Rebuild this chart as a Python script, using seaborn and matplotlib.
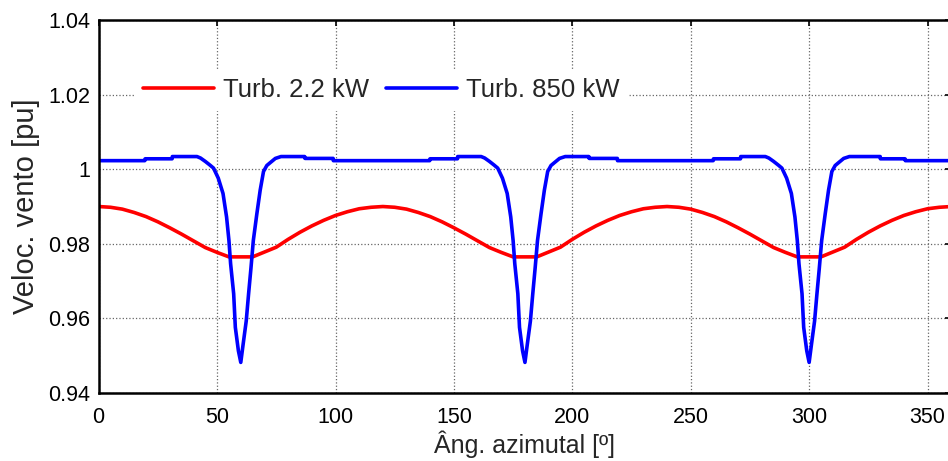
import matplotlib
matplotlib.use("Agg")
import matplotlib.pyplot as plt
import seaborn as sns
import pandas as pd

# Azimuth angle [deg] and wind speed [pu] seen by each turbine
ang_small = [0, 5, 10, 15, 20, 25, 30, 35, 40, 45, 50, 55, 60, 65, 70, 75, 80, 85, 90, 95, 100, 105, 110, 115,
             120, 125, 130, 135, 140, 145, 150, 155, 160, 165, 170, 175, 180, 185, 190, 195, 200, 205, 210, 215, 220, 225, 230, 235,
             240, 245, 250, 255, 260, 265, 270, 275, 280, 285, 290, 295, 300, 305, 310, 315, 320, 325, 330, 335, 340, 345, 350, 355,
             360]
vel_small = [0.9900, 0.9898, 0.9893, 0.9884, 0.9873, 0.9859, 0.9843, 0.9826, 0.9808, 0.9790, 0.9777, 0.9765,
             0.9765, 0.9765, 0.9778, 0.9791, 0.9812, 0.9831, 0.9848, 0.9863, 0.9876, 0.9886, 0.9894, 0.9898,
             0.9900, 0.9898, 0.9893, 0.9884, 0.9873, 0.9859, 0.9843, 0.9826, 0.9808, 0.9790, 0.9777, 0.9765,
             0.9765, 0.9765, 0.9778, 0.9791, 0.9812, 0.9831, 0.9848, 0.9863, 0.9876, 0.9886, 0.9894, 0.9898,
             0.9900, 0.9898, 0.9893, 0.9884, 0.9873, 0.9859, 0.9843, 0.9826, 0.9808, 0.9790, 0.9777, 0.9765,
             0.9765, 0.9765, 0.9778, 0.9791, 0.9812, 0.9831, 0.9848, 0.9863, 0.9876, 0.9886, 0.9894, 0.9898,
             0.9900]

ang_large = [0, 19.5, 19.6, 31, 31.1, 41.5, 43, 45, 47, 48.5, 50.5, 52.5, 54, 55, 55.7, 57, 57.7, 59,
             60, 61, 62.3, 63.3, 64.3, 65.3, 66.8, 68.2, 69.6, 71, 72.5, 74.6, 77, 87, 87.1, 99, 99.1,
             139.8, 139.9, 151.5, 151.6, 161.5, 163, 165, 167, 168.5, 170.5, 172.5, 174, 175, 175.7, 177, 177.7, 179,
             180, 181, 182.3, 183.3, 184.3, 185.3, 186.8, 188.2, 189.6, 191, 192.5, 194.6, 197, 207, 207.1, 219, 219.1,
             259.5, 259.6, 271, 271.1, 281.5, 283, 285, 287, 288.5, 290.5, 292.5, 294, 295, 295.7, 297, 297.7, 299,
             300, 301, 302.3, 303.3, 304.3, 305.3, 306.8, 308.2, 309.6, 311, 312.5, 314.6, 317, 330, 330.1, 340.5, 340.6,
             360]
vel_large = [1.0023, 1.0023, 1.0028, 1.0028, 1.0034, 1.0034, 1.0030, 1.0021, 1.0011, 1.0003, 0.9976, 0.9935,
             0.9872, 0.9809, 0.9747, 0.9666, 0.9576, 0.9513,
             0.9482, 0.9531, 0.9593, 0.9666, 0.9735, 0.9809, 0.9881, 0.9944, 0.9994, 1.0010, 1.0018, 1.0029,
             1.0034, 1.0034, 1.0029, 1.0029, 1.0023,
             1.0023, 1.0028, 1.0028, 1.0034, 1.0034, 1.0030, 1.0021, 1.0011, 1.0003, 0.9976, 0.9935,
             0.9872, 0.9809, 0.9747, 0.9666, 0.9576, 0.9513,
             0.9482, 0.9531, 0.9593, 0.9666, 0.9735, 0.9809, 0.9881, 0.9944, 0.9994, 1.0010, 1.0018, 1.0029,
             1.0034, 1.0034, 1.0029, 1.0029, 1.0023,
             1.0023, 1.0028, 1.0028, 1.0034, 1.0034, 1.0030, 1.0021, 1.0011, 1.0003, 0.9976, 0.9935,
             0.9872, 0.9809, 0.9747, 0.9666, 0.9576, 0.9513,
             0.9482, 0.9531, 0.9593, 0.9666, 0.9735, 0.9809, 0.9881, 0.9944, 0.9994, 1.0010, 1.0018, 1.0029,
             1.0034, 1.0034, 1.0028, 1.0028, 1.0023,
             1.0023]

series_labels = ["Turb. 2.2 kW", "Turb. 850 kW"]
x_ticks = [0, 50, 100, 150, 200, 250, 300, 350]
y_ticks = [0.94, 0.96, 0.98, 1.00, 1.02, 1.04]
y_tick_labels = ["0.94", "0.96", "0.98", "1", "1.02", "1.04"]

sns.set_style("white")
plt.rcParams["font.family"] = ["Liberation Sans", "DejaVu Sans"]

df_small = pd.DataFrame({"ang": ang_small, "vel": vel_small})
df_large = pd.DataFrame({"ang": ang_large, "vel": vel_large})

fig = plt.figure(figsize=(9.48, 4.61), dpi=100)
# the plot box runs a few pixels past the right edge of the figure
ax = fig.add_axes([0.1041, 0.1475, 0.8993, 0.809])

sns.lineplot(data=df_small, x="ang", y="vel", ax=ax, color="#ff0000", lw=2.6,
             label=series_labels[0], sort=False, estimator=None)
sns.lineplot(data=df_large, x="ang", y="vel", ax=ax, color="#0000ff", lw=2.6,
             label=series_labels[1], sort=False, estimator=None)

ax.set_xlim(0, 360)
ax.set_ylim(0.94, 1.04)
ax.set_xticks(x_ticks)
ax.set_xticklabels([str(t) for t in x_ticks])
ax.set_yticks(y_ticks)
ax.set_yticklabels(y_tick_labels)

ax.grid(True, linestyle=":", color="0.4", lw=0.9)
ax.set_axisbelow(True)

ax.tick_params(axis="both", direction="in", length=4, width=1.2, color="black",
               top=True, right=True, labelsize=15.5, labelcolor="black")
ax.tick_params(axis="x", pad=10)
ax.tick_params(axis="y", pad=6)

for side in ["left", "bottom", "top"]:
    ax.spines[side].set_visible(True)
    ax.spines[side].set_color("black")
    ax.spines[side].set_linewidth(1.8)
ax.spines["right"].set_visible(False)

ax.set_xlabel("Âng. azimutal [º]", fontsize=18, labelpad=2)
ax.set_ylabel("Veloc. vento [pu]", fontsize=21, labelpad=6)

leg = ax.legend(loc="center left", bbox_to_anchor=(0.043, 0.812), ncol=2,
                frameon=True, facecolor="white", edgecolor="white", framealpha=1,
                fancybox=False, fontsize=18.5, handlelength=2.75, handletextpad=0.36,
                columnspacing=0.68, borderpad=0.3, borderaxespad=0)

fig.savefig("out.png", dpi=100)
